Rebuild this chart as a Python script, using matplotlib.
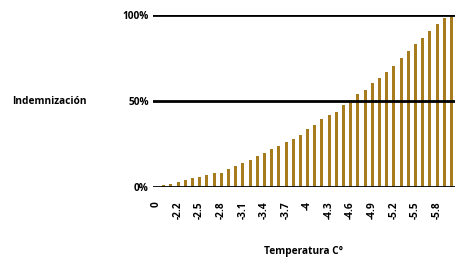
import matplotlib.pyplot as plt
import numpy as np

plt.rcParams['font.family'] = ['Open Sans', 'DejaVu Sans']

# categories: 0, then -2.0 ... -6.0 in 0.1 steps
temps = ["0", "-2", "-2.1", "-2.2", "-2.3", "-2.4", "-2.5", "-2.6", "-2.7", "-2.8",
         "-2.9", "-3", "-3.1", "-3.2", "-3.3", "-3.4", "-3.5", "-3.6", "-3.7", "-3.8",
         "-3.9", "-4", "-4.1", "-4.2", "-4.3", "-4.4", "-4.5", "-4.6", "-4.7", "-4.8",
         "-4.9", "-5", "-5.1", "-5.2", "-5.3", "-5.4", "-5.5", "-5.6", "-5.7", "-5.8",
         "-5.9", "-6"]
indemn = [0, 1.0, 1.7, 2.9, 4.1, 5.0, 5.8, 7.0, 7.9, 8.4,
          10.5, 12.4, 14.0, 15.9, 18.0, 20.0, 22.1, 23.8, 26.2, 28.1,
          30.0, 33.5, 36.2, 39.5, 41.7, 43.6, 47.9, 49.0, 54.1, 56.5,
          60.3, 63.2, 67.0, 70.6, 75.2, 78.8, 83.0, 86.8, 90.6, 94.8,
          98.3, 100.0]
y_ticks = [0, 50, 100]
y_labels = ["0%", "50%", "100%"]

fig = plt.figure(figsize=(4.55, 2.57), dpi=100)
ax = fig.add_axes([153 / 455, 1 - 187 / 257, 302 / 455, 172 / 257])

x = np.arange(len(temps))
ax.bar(x, indemn, width=0.42, color="#A67C1E", zorder=2)

for v in y_ticks:
    ax.axhline(v, color="black", lw=2, zorder=3)

ax.set_xlim(-0.5, len(temps) - 0.5)
ax.set_ylim(0, 100)
ax.set_yticks(y_ticks)
ax.set_yticklabels(y_labels, fontsize=7.3, fontweight="bold")
ax.set_xticks(x[::3])
ax.set_xticklabels(temps[::3], rotation=90, fontsize=7.3, fontweight="bold")
ax.tick_params(length=0, pad=3)
ax.tick_params(axis="x", pad=10)
for s in ax.spines.values():
    s.set_visible(False)

fig.text(12 / 455, 1 - 102 / 257, "Indemnización", fontsize=7.3, fontweight="bold",
         va="center", ha="left")
ax.set_xlabel("Temperatura C°", fontsize=7.3, fontweight="bold", labelpad=20)

fig.savefig("out.png", dpi=100)
